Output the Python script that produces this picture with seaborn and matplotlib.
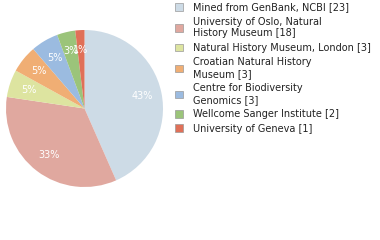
import matplotlib
matplotlib.use("Agg")
import matplotlib.pyplot as plt
import seaborn as sns
from matplotlib.patches import Patch

sns.set_style("white")
plt.rcParams['font.family'] = ['DejaVu Sans']

labels = ["Mined from GenBank, NCBI", "University of Oslo, Natural\nHistory Museum",
          "Natural History Museum, London", "Croatian Natural History\nMuseum",
          "Centre for Biodiversity\nGenomics", "Wellcome Sanger Institute",
          "University of Geneva"]
counts = [23, 18, 3, 3, 3, 2, 1]
colors = sns.color_palette(["#cddbe6", "#e0a89f", "#dde4a0", "#f0ae74",
                            "#9bbbe0", "#9bc47a", "#e07058"])

total = sum(counts)
fig = plt.figure(figsize=(3.8, 2.4), dpi=100)
ax = fig.add_axes([6/380, (240-187)/240, 157/380, 157/240])
wedges, texts, autotexts = ax.pie(
    counts, colors=colors, startangle=90, counterclock=False,
    autopct=lambda p: f"{int(p)}%", pctdistance=0.75,
    wedgeprops=dict(linewidth=0),
    textprops=dict(color="white", fontsize=7))
ax.set_xlim(-1, 1)
ax.set_ylim(-1, 1)
ax.set_aspect("equal")

handles = [Patch(facecolor=c, edgecolor="#999999", linewidth=0.5) for c in colors]
leg_labels = [f"{l} [{n}]" for l, n in zip(labels, counts)]
fig.legend(handles, leg_labels, loc="upper left", bbox_to_anchor=(170/380, 1.01),
           frameon=False, fontsize=7, handlelength=0.85, handleheight=0.85,
           handletextpad=1.0, labelspacing=0.45, borderaxespad=0.1,
           labelcolor="#222222")
fig.savefig("out.png", dpi=100)
